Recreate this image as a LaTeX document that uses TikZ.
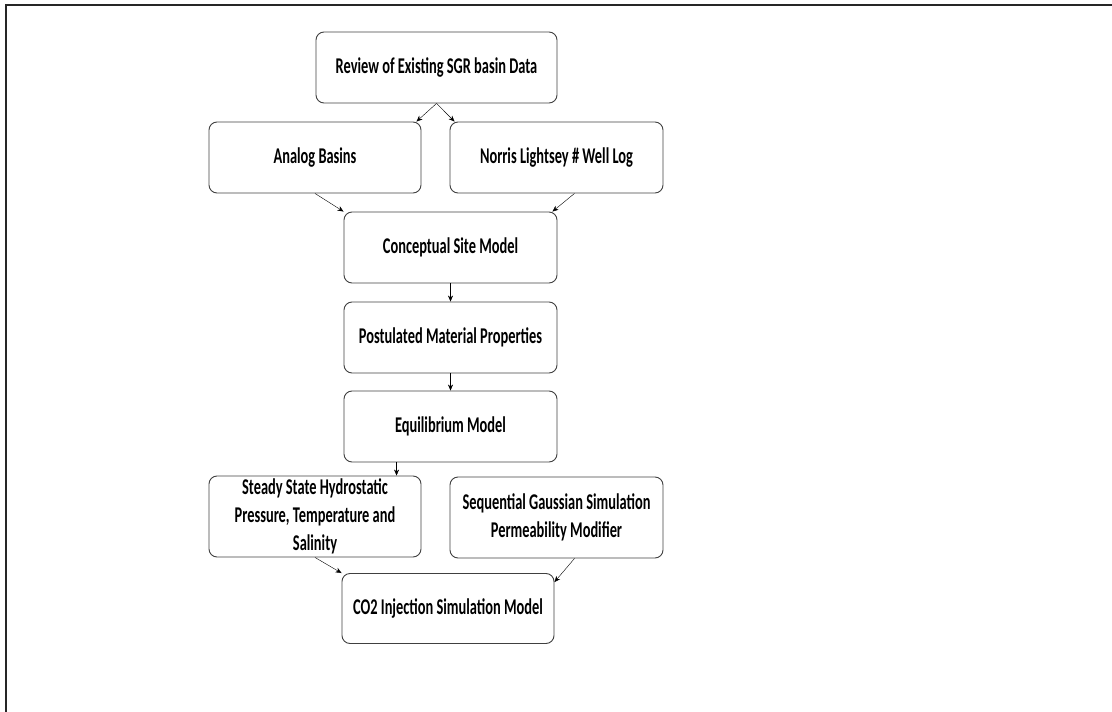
\documentclass[tikz,border=0pt]{standalone}
\usepackage{fontspec}
\setmainfont[FakeStretch=0.64]{Carlito}
\usetikzlibrary{arrows.meta}

\begin{document}
\begin{tikzpicture}[node distance={90pt}, >={Stealth[length=6pt,width=5pt]},
    box/.style = {draw=black!75, line width=0.9pt, rounded corners=8pt, minimum width=213pt, minimum height=71pt,
        inner sep=0pt, align=center, font=\fontsize{22.5}{28}\selectfont\bfseries}]
        \useasboundingbox (0,0) rectangle (1112pt,-712pt);
        \draw[line width=2pt, black!85] (6.2pt,-712pt) -- (6.2pt,-4.5pt) -- (1112pt,-4.5pt);

        \node[box, minimum width=241pt] (review) at (436.5pt,-67.5pt) {Review of Existing SGR basin Data};
        \node[box, minimum width=212pt] (analog) [below of = review, xshift=-121.5pt] {Analog Basins};
        \node[box] (norris) [below of = review, xshift=120pt] {Norris Lightsey \# Well Log};
        \node[box] (concept) [below of = analog, xshift=135.5pt] {Conceptual Site Model};
        \node[box] (postulated) [below of = concept] {Postulated Material Properties};
        \node[box] (equil) [below of = postulated, yshift=1pt] {Equilibrium Model};
        \node[box, minimum width=212pt, minimum height=81pt] (steady) [below of = equil, xshift=-135.5pt]
            {Steady State Hydrostatic\\Pressure, Temperature and\\Salinity};
        \node[box, minimum height=81pt] (sequential) [below of = equil, xshift=106pt, yshift=-1pt]
            {Sequential Gaussian Simulation\\Permeability Modifier};
        \node[box, minimum width=212pt, minimum height=70pt] (co2) [below of = steady, xshift=133pt, yshift=-2pt]
            {CO2 Injection Simulation Model};

        \draw[->] (review.south) -- ([xshift=-5pt]analog.north east);
        \draw[->] (review.south) -- ([xshift=5pt]norris.north west);
        \draw[->] (analog.south) -- (concept.north west);
        \draw[->] ([xshift=18pt]norris.south) -- ([xshift=-5pt]concept.north east);
        \draw[->] (concept) -- (postulated);
        \draw[->] (postulated) -- (equil);
        \draw[->] ([xshift=53pt]equil.south west) -- ([xshift=53pt]equil.south west |- steady.north);
        \draw[->] (steady.south) -- (co2.north west);
        \draw[->] ([xshift=18pt]sequential.south) -- ([yshift=-9pt]co2.north east);

    \end{tikzpicture}
\end{document}
